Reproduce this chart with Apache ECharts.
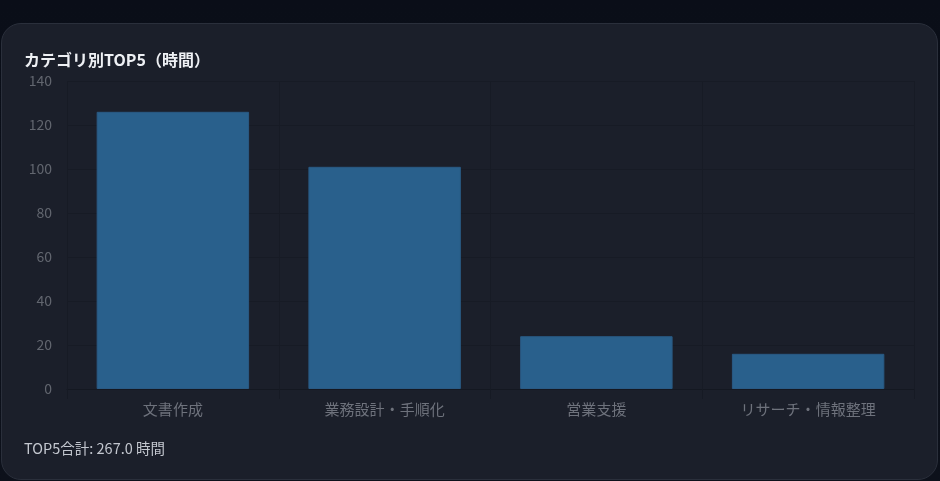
<!DOCTYPE html>
<html><head><meta charset="utf-8">
<script src="https://cdn.jsdelivr.net/npm/echarts@6/dist/echarts.min.js"></script>
<style>
html,body{margin:0;padding:0;width:940px;height:481px;overflow:hidden;background:linear-gradient(180deg,#0a0e18 0%,#0d111b 100%);}
#card{position:absolute;left:1px;top:23px;width:935px;height:455px;border-radius:20px;background:#1b1f2a;border:1px solid #2a2f3b;}
#chart{position:absolute;left:0;top:0;width:940px;height:481px;}
</style></head>
<body>
<div id="card"></div>
<div id="chart"></div>
<script>
const categories = ['文書作成', '業務設計・手順化', '営業支援', 'リサーチ・情報整理'];
const hours = [126, 101, 24, 16];
const yTicks = { min: 0, max: 140, interval: 20 };
const titleText = 'カテゴリ別TOP5（時間）';
const totalLabel = 'TOP5合計: ';
const unit = ' 時間';

const total = hours.reduce((a, b) => a + b, 0);
const FF = '"Noto Sans CJK JP", "Noto Sans", sans-serif';
const chart = echarts.init(document.getElementById('chart'), null, { renderer: 'canvas' });
chart.setOption({
  backgroundColor: 'transparent',
  animation: false,
  title: {
    text: titleText, left: 19, top: 47,
    textStyle: { color: '#eef0f4', fontSize: 16, fontWeight: 'bold', fontFamily: FF }
  },
  grid: { left: 67, right: 26, top: 81, bottom: 92 },
  xAxis: {
    type: 'category', data: categories,
    axisLine: { show: true, lineStyle: { color: '#141821', width: 1 } },
    axisTick: { show: true, length: 10, lineStyle: { color: '#161a24' } },
    splitLine: { show: true, lineStyle: { color: '#171b25' } },
    axisLabel: { color: '#6e727c', fontSize: 15, margin: 13, fontFamily: FF }
  },
  yAxis: {
    type: 'value', min: yTicks.min, max: yTicks.max, interval: yTicks.interval,
    axisLine: { show: false }, axisTick: { show: false },
    splitLine: { show: true, lineStyle: { color: '#171b25' } },
    axisLabel: { color: '#62666f', fontSize: 14, margin: 15, fontFamily: FF }
  },
  series: [{
    type: 'bar', data: hours, barWidth: '72%',
    itemStyle: { color: '#29608c', borderColor: '#2a5a84', borderWidth: 1 }
  }],
  graphic: [{
    type: 'text', left: 24, top: 441,
    style: { text: totalLabel + total.toFixed(1) + unit, fill: '#c3c7cf', fontSize: 14.5, fontFamily: FF }
  }]
});
</script>
</body></html>
